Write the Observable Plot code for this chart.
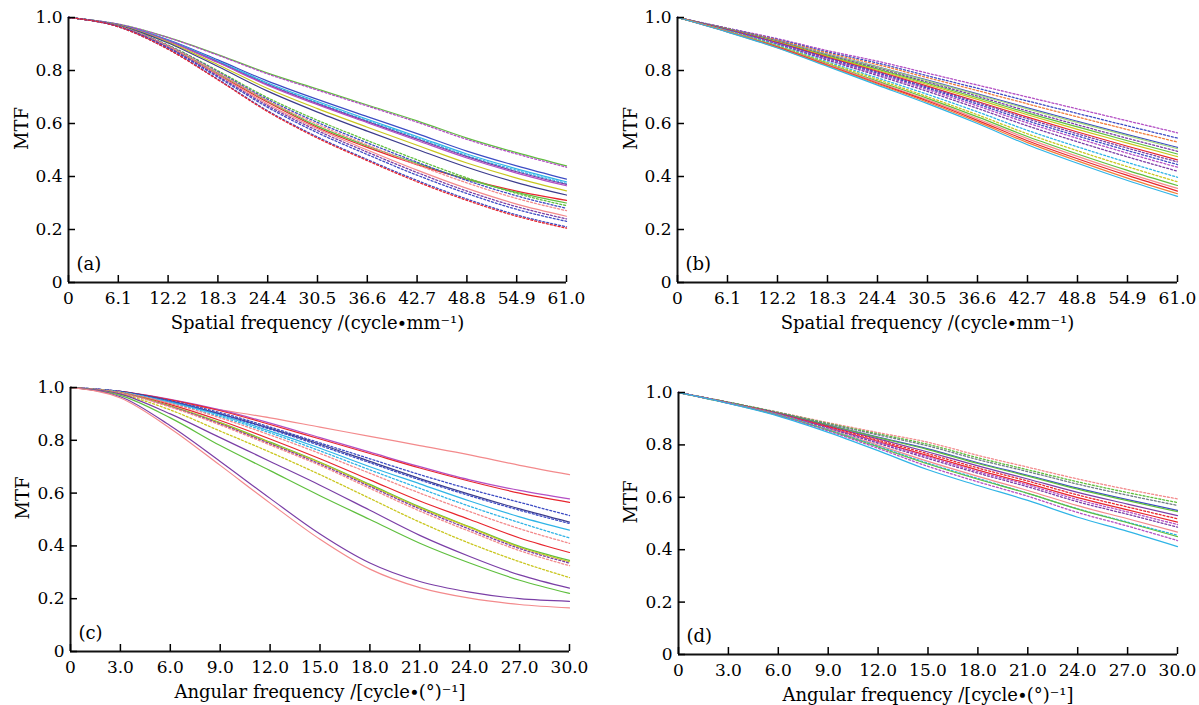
<!DOCTYPE html>
<html>
<head>
<meta charset="utf-8">
<script src="https://cdn.jsdelivr.net/npm/d3@7"></script>
<script src="https://cdn.jsdelivr.net/npm/@observablehq/plot@0.6"></script>
<style>
  html, body { margin: 0; padding: 0; background: #fff; }
  body { width: 1199px; height: 705px; position: relative; overflow: hidden; }
  .panel { position: absolute; }
  .panel svg { overflow: visible; }
</style>
</head>
<body>
<div id="pa" class="panel" style="left:0px;top:0px"></div>
<div id="pb" class="panel" style="left:600px;top:0px"></div>
<div id="pc" class="panel" style="left:0px;top:360px"></div>
<div id="pd" class="panel" style="left:600px;top:360px"></div>
<script>
// ---------- axis ticks / categories ----------
const spatialFreq = [0, 6.1, 12.2, 18.3, 24.4, 30.5, 36.6, 42.7, 48.8, 54.9, 61.0];
const angularFreq = [0, 3, 6, 9, 12, 15, 18, 21, 24, 27, 30];
const mtfTicks = [0, 0.2, 0.4, 0.6, 0.8, 1.0];

// ---------- panel (a) MTF values (at spatialFreq) ----------
const mtfA = [
  [1, .975, .925, .860, .790, .730, .670, .610, .545, .490, .440],
  [1, .975, .924, .858, .787, .726, .666, .605, .540, .485, .435],
  [1, .973, .916, .840, .760, .691, .626, .562, .496, .440, .390],
  [1, .972, .914, .836, .753, .683, .616, .551, .485, .429, .380],
  [1, .972, .912, .833, .749, .678, .611, .546, .479, .423, .374],
  [1, .972, .912, .832, .747, .675, .607, .541, .475, .418, .370],
  [1, .972, .911, .830, .744, .671, .603, .536, .470, .413, .365],
  [1, .971, .907, .822, .732, .656, .586, .518, .451, .394, .346],
  [1, .970, .904, .815, .722, .643, .571, .502, .435, .377, .330],
  [1, .968, .890, .785, .680, .585, .510, .445, .390, .345, .310],
  [1, .968, .893, .790, .685, .590, .515, .450, .390, .340, .300],
  [1, .969, .896, .799, .697, .612, .536, .463, .395, .336, .290],
  [1, .968, .894, .795, .691, .604, .527, .454, .385, .327, .280],
  [1, .968, .893, .792, .686, .597, .519, .444, .376, .317, .271],
  [1, .967, .889, .783, .673, .580, .500, .424, .355, .296, .250],
  [1, .967, .887, .779, .667, .573, .492, .415, .345, .286, .240],
  [1, .966, .885, .775, .661, .565, .483, .405, .336, .276, .231],
  [1, .965, .881, .767, .648, .549, .464, .385, .315, .255, .210],
  [1, .965, .880, .765, .645, .545, .460, .380, .310, .250, .205]
];
const colorA = ["green","magenta","blue","cyan","cyan","purple","magenta","yellow","navy","red","green","green","blue","pink","pink","purple","blue","blue","red"];
const dashA  = ["solid","dot","solid","solid","dot","solid","solid","solid","solid","solid","solid","dot","dot","dot","solid","dot","dot","dot","dot"];

// ---------- panel (b) ----------
const mtfB = [
  [1, .960, .920, .875, .835, .790, .745, .700, .655, .610, .565],
  [1, .959, .917, .870, .828, .780, .733, .685, .638, .591, .545],
  [1, .958, .915, .866, .822, .773, .724, .674, .625, .577, .530],
  [1, .957, .912, .861, .814, .764, .712, .659, .608, .558, .510],
  [1, .956, .911, .860, .813, .761, .709, .655, .604, .554, .505],
  [1, .956, .910, .857, .809, .756, .703, .647, .595, .544, .495],
  [1, .955, .908, .855, .805, .752, .697, .640, .587, .535, .485],
  [1, .954, .907, .853, .801, .747, .691, .633, .578, .526, .475],
  [1, .954, .905, .850, .797, .741, .683, .624, .568, .514, .463],
  [1, .953, .904, .848, .794, .737, .679, .618, .561, .507, .455],
  [1, .953, .903, .845, .790, .733, .673, .610, .553, .498, .445],
  [1, .952, .901, .842, .786, .728, .666, .602, .544, .488, .435],
  [1, .951, .899, .839, .781, .721, .657, .591, .531, .474, .420],
  [1, .950, .896, .833, .772, .710, .644, .574, .512, .453, .397],
  [1, .948, .893, .829, .766, .701, .633, .561, .497, .437, .380],
  [1, .948, .891, .825, .760, .695, .625, .551, .485, .423, .366],
  [1, .947, .889, .823, .756, .689, .618, .543, .476, .413, .355],
  [1, .946, .888, .820, .752, .685, .612, .535, .467, .404, .345],
  [1, .946, .886, .818, .749, .680, .606, .528, .459, .394, .335],
  [1, .945, .885, .815, .745, .675, .600, .520, .450, .385, .325]
];
const colorB = ["magenta","blue","orange","blue","lightgreen","purple","green","yellow","red","purple","blue","magenta","purple","cyan","yellow","green","pink","red","orange","cyan"];
const dashB  = ["dot","dot","dot","solid","solid","dot","solid","solid","solid","dot","dot","dot","dot","dot","dot","solid","solid","solid","solid","solid"];

// ---------- panel (c) (at angularFreq) ----------
const mtfC = [
  [1, .975, .945, .915, .885, .850, .815, .780, .745, .705, .670],
  [1, .985, .955, .915, .865, .810, .755, .700, .650, .610, .578],
  [1, .985, .953, .912, .860, .805, .750, .695, .645, .600, .565],
  [1, .985, .950, .905, .850, .790, .730, .670, .615, .565, .515],
  [1, .985, .948, .900, .845, .785, .720, .655, .595, .540, .490],
  [1, .984, .947, .898, .842, .780, .715, .650, .590, .535, .485],
  [1, .983, .945, .895, .835, .770, .700, .635, .570, .510, .460],
  [1, .982, .942, .890, .828, .760, .688, .618, .550, .488, .430],
  [1, .982, .940, .885, .820, .750, .675, .600, .530, .465, .410],
  [1, .980, .935, .875, .805, .730, .650, .570, .500, .430, .375],
  [1, .980, .930, .867, .793, .717, .633, .548, .472, .398, .345],
  [1, .980, .930, .865, .790, .715, .630, .545, .470, .395, .340],
  [1, .979, .928, .862, .787, .710, .625, .540, .463, .390, .335],
  [1, .979, .926, .858, .782, .705, .618, .532, .455, .382, .325],
  [1, .975, .915, .835, .755, .670, .580, .490, .410, .340, .280],
  [1, .975, .900, .810, .720, .630, .535, .440, .360, .290, .240],
  [1, .970, .885, .780, .685, .590, .500, .410, .335, .270, .220],
  [1, .965, .855, .720, .580, .445, .335, .265, .225, .200, .190],
  [1, .960, .845, .705, .562, .425, .312, .242, .202, .178, .165]
];
const colorC = ["pink","magenta","red","blue","navy","blue","cyan","cyan","pink","red","green","yellow","purple","pink","yellow","purple","green","purple","pink"];
const dashC  = ["solid","solid","solid","dot","solid","dot","solid","dot","dot","solid","solid","solid","dot","dot","dot","solid","solid","solid","solid"];

// ---------- panel (d) ----------
const mtfD = [
  [1, .963, .925, .885, .847, .810, .760, .715, .670, .630, .594],
  [1, .963, .924, .882, .842, .802, .751, .705, .659, .618, .580],
  [1, .962, .923, .880, .838, .796, .744, .698, .650, .608, .569],
  [1, .962, .921, .876, .830, .785, .732, .684, .635, .591, .550],
  [1, .962, .921, .875, .828, .782, .729, .681, .631, .587, .545],
  [1, .961, .920, .872, .823, .773, .720, .670, .619, .574, .530],
  [1, .961, .919, .870, .818, .766, .712, .662, .609, .563, .518],
  [1, .961, .918, .867, .813, .759, .704, .653, .599, .552, .505],
  [1, .960, .917, .865, .810, .754, .698, .647, .591, .544, .496],
  [1, .960, .916, .863, .806, .748, .692, .640, .583, .535, .486],
  [1, .960, .915, .859, .799, .737, .680, .626, .568, .518, .467],
  [1, .960, .915, .858, .795, .730, .672, .615, .556, .505, .455],
  [1, .959, .913, .856, .792, .727, .669, .615, .555, .503, .450],
  [1, .959, .912, .853, .787, .718, .659, .604, .542, .490, .435],
  [1, .958, .910, .848, .778, .705, .645, .588, .524, .470, .412]
];
const colorD = ["pink","green","gray","blue","green","purple","red","red","magenta","purple","pink","cyan","green","magenta","cyan"];
const dashD  = ["dot","dot","dot","solid","solid","solid","dot","solid","dot","dot","solid","dot","solid","dot","solid"];

// ---------- styles ----------
const palette = {
  red: "#e8262e", pink: "#f38a8c", green: "#5fbf3e", lightgreen: "#a2d67f",
  yellow: "#c9c61e", blue: "#3d4cc4", navy: "#3c3c8c", purple: "#7a3ea6",
  magenta: "#b34fc4", cyan: "#2fb4e6", orange: "#ef7d3a", gray: "#707c88"
};
const dashes = { solid: null, dot: "2,2" };
const FONT = "'DejaVu Serif', 'Liberation Serif', serif";

function fmt(d) { return d === 0 ? "0" : d.toFixed(1); }

function panel(id, opts) {
  const {xs, mtf, colors, styles, xLabel, letter, width, height, ml, mr, mt, mb, yLabelDx} = opts;
  const lines = mtf.map((vals, i) => {
    const rows = vals.map((v, j) => ({x: xs[j], y: v}));
    return Plot.line(rows, {
      x: "x", y: "y",
      stroke: palette[colors[i]],
      strokeDasharray: dashes[styles[i]],
      strokeWidth: styles[i] === "dot" ? 1.3 : 1.2,
      curve: "monotone-x"
    });
  });
  const chart = Plot.plot({
    width, height,
    marginLeft: ml, marginRight: mr, marginTop: mt, marginBottom: mb,
    x: {domain: [0, xs[xs.length - 1]]},
    y: {domain: [0, 1]},
    style: {fontFamily: FONT, fontSize: "17px", color: "#000", background: "transparent"},
    marks: [
      ...lines,
      Plot.ruleY([0], {strokeWidth: 2, stroke: "#111"}),
      Plot.ruleX([0], {strokeWidth: 2, stroke: "#111"}),
      Plot.axisX(xs, {tickSize: -7, tickPadding: 16, tickFormat: fmt, label: null, strokeWidth: 1.5, fontSize: 17, fill: "#000"}),
      Plot.axisY(mtfTicks, {tickSize: -7, tickPadding: 13, tickFormat: fmt, label: null, strokeWidth: 1.5, fontSize: 17, fill: "#000"}),
      Plot.text([xLabel], {frameAnchor: "bottom", dy: 46, lineAnchor: "bottom", fontSize: 18, fill: "#000"}),
      Plot.text(["MTF"], {frameAnchor: "left", dx: yLabelDx, rotate: -90, fontSize: 18, fill: "#000"}),
      Plot.text([letter], {frameAnchor: "bottom-left", dx: 8, dy: -13, lineAnchor: "bottom", textAnchor: "start", fontSize: 18, fill: "#000"})
    ]
  });
  document.getElementById(id).appendChild(chart);
}

const spatialLabel = "Spatial frequency /(cycle\u2219mm\u207B\u00B9)";
const angularLabel = "Angular frequency /[cycle\u2219(\u00B0)\u207B\u00B9]";

panel("pa", {xs: spatialFreq, mtf: mtfA, colors: colorA, styles: dashA, xLabel: spatialLabel, letter: "(a)",
  width: 600, height: 340, ml: 68, mr: 34, mt: 17, mb: 58, yLabelDx: -46});
panel("pb", {xs: spatialFreq, mtf: mtfB, colors: colorB, styles: dashB, xLabel: spatialLabel, letter: "(b)",
  width: 599, height: 340, ml: 77, mr: 22, mt: 17, mb: 58, yLabelDx: -46});
panel("pc", {xs: angularFreq, mtf: mtfC, colors: colorC, styles: dashC, xLabel: angularLabel, letter: "(c)",
  width: 600, height: 345, ml: 70, mr: 31, mt: 27, mb: 54, yLabelDx: -47});
panel("pd", {xs: angularFreq, mtf: mtfD, colors: colorD, styles: dashD, xLabel: angularLabel, letter: "(d)",
  width: 599, height: 345, ml: 78, mr: 22, mt: 32, mb: 51, yLabelDx: -47});
</script>
</body>
</html>
